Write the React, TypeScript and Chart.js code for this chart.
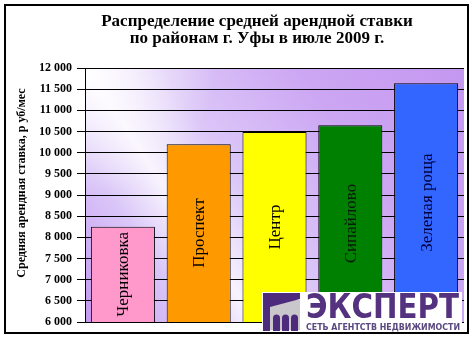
import React, { useEffect, useRef } from "react";
import { Chart, registerables } from "chart.js";

Chart.register(...registerables);

const districts = ["Черниковка", "Проспект", "Центр", "Сипайлово", "Зеленая роща"];
const avgRent = [8250, 10200, 10490, 10650, 11640];
const barColors = ["#ff99cc", "#ff9900", "#ffff00", "#008000", "#3366ff"];
const labelColors = ["#000000", "#000000", "#000000", "#0a1a0a", "#000040"];
const titleLines = ["Распределение средней арендной ставки", "по районам г. Уфы в июле 2009 г."];
const yAxisTitle = "Средняя арендная ставка, р уб/мес";
const yMin = 6000;
const yMax = 12000;
const yStep = 500;
const logoName = "ЭКСПЕРТ";
const logoTagline = "СЕТЬ АГЕНТСТВ НЕДВИЖИМОСТИ";

const fmt = (v: number) => {
  const th = Math.floor(v / 1000);
  const rest = String(v % 1000).padStart(3, "0");
  return th + " " + rest;
};

const decor = {
  id: "decor",
  beforeDraw(chart: any) {
    const { ctx, chartArea: a } = chart;
    ctx.save();
    ctx.fillStyle = "#ffffff";
    ctx.fillRect(0, 0, chart.width, chart.height);
    ctx.strokeStyle = "#000000";
    ctx.lineWidth = 2;
    ctx.strokeRect(5, 5, 463, 328);
    const g = ctx.createLinearGradient(a.right, a.top, a.left, a.bottom);
    g.addColorStop(0, "#c497f0");
    g.addColorStop(0.3, "#cca6f3");
    g.addColorStop(0.55, "#dcc7f8");
    g.addColorStop(0.69, "#f8f4fe");
    g.addColorStop(0.8, "#dac6f8");
    g.addColorStop(1, "#c497f0");
    ctx.fillStyle = g;
    ctx.fillRect(a.left, a.top, a.right - a.left, a.bottom - a.top);
    const r = ctx.createRadialGradient(a.left, a.top, 0, a.left, a.top, 130);
    r.addColorStop(0, "rgba(255,255,255,0.9)");
    r.addColorStop(1, "rgba(255,255,255,0)");
    ctx.fillStyle = r;
    ctx.fillRect(a.left, a.top, a.right - a.left, a.bottom - a.top);
    ctx.restore();
  },
  afterDatasetsDraw(chart: any) {
    const { ctx } = chart;
    const meta = chart.getDatasetMeta(0);
    const basePx = chart.scales.y.getPixelForValue(yMin);
    ctx.save();
    ctx.font = "17px 'Liberation Serif', serif";
    ctx.textAlign = "center";
    ctx.textBaseline = "middle";
    meta.data.forEach((bar: any, i: number) => {
      const cy = (bar.y + basePx) / 2;
      ctx.save();
      ctx.translate(bar.x + 1, cy);
      ctx.rotate(-Math.PI / 2);
      ctx.fillStyle = labelColors[i];
      ctx.fillText(districts[i], 0, 0);
      ctx.restore();
    });
    ctx.restore();
  },
  afterDraw(chart: any) {
    const { ctx } = chart;
    ctx.save();
    // title
    ctx.fillStyle = "#000000";
    ctx.font = "bold 17px 'Liberation Serif', serif";
    ctx.textAlign = "center";
    ctx.textBaseline = "alphabetic";
    ctx.fillText(titleLines[0], 257, 26);
    ctx.fillText(titleLines[1], 257, 43);
    // y axis title
    ctx.save();
    ctx.translate(22, 183);
    ctx.rotate(-Math.PI / 2);
    ctx.font = "bold 12px 'Liberation Serif', serif";
    ctx.textBaseline = "middle";
    ctx.fillText(yAxisTitle, 0, 0);
    ctx.restore();
    // logo
    ctx.fillStyle = "#ffffff";
    ctx.fillRect(262, 292, 200, 40);
    ctx.fillStyle = "#c9c6cc";
    ctx.fillRect(264, 300, 36, 30);
    ctx.fillStyle = "#4e2a7c";
    ctx.beginPath();
    ctx.moveTo(263, 293);
    ctx.lineTo(300, 293);
    ctx.lineTo(300, 299);
    ctx.lineTo(270, 307);
    ctx.lineTo(270, 331);
    ctx.lineTo(263, 331);
    ctx.closePath();
    ctx.fill();
    for (let k = 0; k < 3; k++) {
      const x0 = 273 + k * 9;
      ctx.beginPath();
      ctx.moveTo(x0, 331);
      ctx.lineTo(x0, 318);
      ctx.arc(x0 + 3.5, 318, 3.5, Math.PI, 0);
      ctx.lineTo(x0 + 7, 331);
      ctx.closePath();
      ctx.fill();
    }
    ctx.fillStyle = "#55327f";
    ctx.font = "bold 34px 'DejaVu Sans', sans-serif";
    ctx.textAlign = "left";
    ctx.textBaseline = "alphabetic";
    ctx.fillText(logoName, 306, 318, 153);
    ctx.fillStyle = "#5a4880";
    ctx.font = "bold 9px 'DejaVu Sans', sans-serif";
    ctx.fillText(logoTagline, 306, 330, 154);
    ctx.restore();
  },
};

export default function App() {
  const ref = useRef<HTMLCanvasElement>(null);
  useEffect(() => {
    if (!ref.current) return;
    const chart = new Chart(ref.current, {
      type: "bar",
      data: {
        labels: districts,
        datasets: [
          {
            data: avgRent,
            backgroundColor: barColors,
            borderColor: "#000000",
            borderWidth: 1,
            borderSkipped: false,
            categoryPercentage: 1,
            barPercentage: 0.845,
          },
        ],
      },
      options: {
        responsive: false,
        animation: false,
        devicePixelRatio: 1,
        layout: { padding: { left: 0, right: 10, top: 68, bottom: 19 } },
        plugins: {
          legend: { display: false },
          title: { display: false },
          tooltip: { enabled: false },
        },
        scales: {
          x: { display: false },
          y: {
            min: yMin,
            max: yMax,
            ticks: {
              stepSize: yStep,
              color: "#000000",
              padding: 5,
              font: { family: "'Liberation Serif', serif", weight: "bold", size: 12 },
              callback: (v: any) => fmt(Number(v)),
            },
            grid: { color: "#000000", lineWidth: 1, tickLength: 8, drawTicks: true },
            border: { color: "#000000", width: 1 },
            afterFit: (s: any) => {
              s.width = 85;
            },
          },
        },
      },
      plugins: [decor],
    });
    return () => chart.destroy();
  }, []);
  return (
    <div style={{ position: "fixed", left: 0, top: 0, width: 474, height: 341 }}>
      <canvas ref={ref} width={474} height={341} style={{ display: "block" }} />
    </div>
  );
}
